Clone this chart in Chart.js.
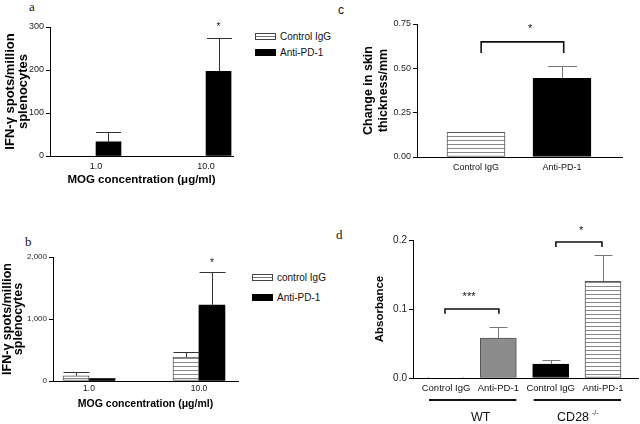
<!DOCTYPE html>
<html>
<head>
<meta charset="utf-8">
<script src="https://cdn.jsdelivr.net/npm/chart.js@4.4.1/dist/chart.umd.min.js"></script>
<style>
  body { margin: 0; width: 640px; height: 424px; background: #fff; position: relative; overflow: hidden; font-family: 'Liberation Sans', Arial, sans-serif; }
  canvas, .tag, .legend { position: absolute; }
  .tag { font-family: 'Liberation Serif', serif; font-size: 13px; color: #111; line-height: 1; }
  .legend { font-size: 10px; color: #111; }
  .legend div { display: flex; align-items: center; }
  .sw { width: 19px; height: 5px; border: 1px solid #444; margin-right: 4px; }
  .sw.striped { background: linear-gradient(#fff 0 2px, #777 2px 3px, #fff 3px); }
  .sw.solid { background: #000; border-color: #000; }
</style>
</head>
<body>

<div class="tag" style="left:29px;top:0px">a</div>
<div class="tag" style="left:25px;top:235px">b</div>
<div class="tag" style="left:338px;top:4px;font-family:'Liberation Sans',sans-serif;font-size:12px">c</div>
<div class="tag" style="left:336px;top:228px">d</div>

<div class="legend" style="left:255px;top:28px">
  <div style="height:16px"><span class="sw striped"></span>Control IgG</div>
  <div style="height:16px"><span class="sw solid"></span>Anti-PD-1</div>
</div>
<div class="legend" style="left:252px;top:267px">
  <div style="height:20px"><span class="sw striped"></span>control IgG</div>
  <div style="height:20px"><span class="sw solid"></span>Anti-PD-1</div>
</div>

<canvas id="chartA" width="240" height="192" style="left:0;top:0"></canvas>
<canvas id="chartB" width="245" height="190" style="left:0;top:230px"></canvas>
<canvas id="chartC" width="280" height="182" style="left:355px;top:0"></canvas>
<canvas id="chartD" width="285" height="202" style="left:355px;top:222px"></canvas>

<script>
// values
const mogLabels = ['1.0', '10.0']

const aControl = [0, 0]
const aControlErr = [null, null]
const aAnti = [33, 197]
const aAntiErr = [56, 275]

const bControl = [85, 387]
const bControlErr = [140, 473]
const bAnti = [32, 1226]
const bAntiErr = [53, 1753]

const cLabels = ['Control IgG', 'Anti-PD-1']
const cValues = [0.139, 0.444]
const cErr = [null, 0.513]

const dLabels = ['Control IgG', 'Anti-PD-1', 'Control IgG', 'Anti-PD-1']
const dValues = [0.001, 0.058, 0.020, 0.140]
const dErr = [null, 0.0735, 0.026, 0.178]
const dGroups = ['WT', 'CD28']

const sans = "'Liberation Sans', Arial, Helvetica, sans-serif"
Chart.defaults.font.family = sans
Chart.defaults.color = '#111'
Chart.defaults.animation = false

const toPoints = values => values.map((v, i) => ({ x: i + 1, y: v }))

const stripes = (ctx, gap) => {
  const tile = document.createElement('canvas')
  tile.width = 8
  tile.height = gap
  const t = tile.getContext('2d')
  t.fillStyle = '#fff'
  t.fillRect(0, 0, 8, gap)
  t.fillStyle = '#888'
  t.fillRect(0, 0, 8, 1)
  return ctx.createPattern(tile, 'repeat')
}

// upper-only error bars, drawn from each bar's own geometry
const errorBars = (color, capRatio) => ({
  id: 'errorBars',
  afterDatasetsDraw(chart) {
    const { ctx, scales: { y } } = chart
    chart.data.datasets.forEach((ds, di) => {
      if (!ds.errors) return
      chart.getDatasetMeta(di).data.forEach((bar, i) => {
        const top = ds.errors[i]
        if (top == null) return
        const { x, y: barTop, width } = bar.getProps(['x', 'y', 'width'], true)
        const px = Math.round(x) + 0.5
        const yE = Math.round(y.getPixelForValue(top)) + 0.5
        const half = width * capRatio / 2
        ctx.save()
        ctx.strokeStyle = color
        ctx.lineWidth = 1
        ctx.beginPath()
        ctx.moveTo(px, barTop)
        ctx.lineTo(px, yE)
        ctx.moveTo(px - half, yE)
        ctx.lineTo(px + half, yE)
        ctx.stroke()
        ctx.restore()
      })
    })
  }
})

// significance stars above a given bar
const stars = items => ({
  id: 'stars',
  afterDraw(chart) {
    const { ctx, scales: { y } } = chart
    items.forEach(({ ds, index, value, text }) => {
      const bar = chart.getDatasetMeta(ds).data[index]
      ctx.save()
      ctx.fillStyle = '#111'
      ctx.font = `10px ${sans}`
      ctx.textAlign = 'center'
      ctx.textBaseline = 'middle'
      ctx.fillText(text, bar.x, y.getPixelForValue(value))
      ctx.restore()
    })
  }
})

// comparison brackets
const brackets = items => ({
  id: 'brackets',
  afterDraw(chart) {
    const { ctx, scales: { x, y } } = chart
    items.forEach(b => {
      const x1 = x.getPixelForValue(b.from)
      const x2 = x.getPixelForValue(b.to)
      const yTop = y.getPixelForValue(b.top)
      const yLeg = y.getPixelForValue(b.leg)
      ctx.save()
      ctx.strokeStyle = '#111'
      ctx.lineWidth = 1.6
      ctx.beginPath()
      ctx.moveTo(x1, yLeg)
      ctx.lineTo(x1, yTop)
      ctx.lineTo(x2, yTop)
      ctx.lineTo(x2, yLeg)
      ctx.stroke()
      ctx.fillStyle = '#111'
      ctx.font = `11px ${sans}`
      ctx.textAlign = 'center'
      ctx.textBaseline = 'middle'
      ctx.fillText(b.text, x.getPixelForValue(b.textX), y.getPixelForValue(b.textY))
      ctx.restore()
    })
  }
})

// WT / CD28-/- group underlines below the tick labels
const groupLabels = groups => ({
  id: 'groupLabels',
  afterDraw(chart) {
    const { ctx, chartArea, scales: { x } } = chart
    const lineY = chartArea.bottom + 22
    const textY = chartArea.bottom + 40
    groups.forEach((name, g) => {
      const left = x.getPixelForValue(g * 2 + 1) - 17
      const right = x.getPixelForValue(g * 2 + 2) + 18
      ctx.save()
      ctx.strokeStyle = '#111'
      ctx.lineWidth = 2
      ctx.beginPath()
      ctx.moveTo(left, lineY)
      ctx.lineTo(right, lineY)
      ctx.stroke()
      ctx.fillStyle = '#111'
      ctx.textBaseline = 'middle'
      ctx.font = `12.5px ${sans}`
      const mid = (left + right) / 2
      if (name === 'CD28') {
        const w = ctx.measureText(name).width
        ctx.font = `7px ${sans}`
        const sup = ' -/-'
        const sw = ctx.measureText(sup).width
        const start = mid - (w + sw) / 2
        ctx.font = `12.5px ${sans}`
        ctx.textAlign = 'left'
        ctx.fillText(name, start, textY)
        ctx.font = `7px ${sans}`
        ctx.fillText(sup, start + w + 1, textY - 5)
      } else {
        ctx.textAlign = 'center'
        ctx.fillText(name, mid + 8, textY)
      }
      ctx.restore()
    })
  }
})

const yAxis = ({ max, step, width, fmt, tickSize, title, titleFont, titlePad }) => ({
  min: 0,
  max,
  afterFit: scale => { scale.width = width },
  ticks: { stepSize: step, padding: 2, font: { size: tickSize }, color: '#222', callback: fmt },
  grid: { drawOnChartArea: false, tickLength: 4, color: '#000' },
  border: { color: '#000' },
  title: { display: true, text: title, color: '#000', font: titleFont, padding: { top: titlePad, bottom: 0 } }
})

const xAxis = ({ min, max, labels, height, tickSize, tickPad, title }) => ({
  type: 'linear',
  offset: false,
  min,
  max,
  afterFit: scale => { scale.height = height },
  afterBuildTicks: scale => { scale.ticks = labels.map((l, i) => ({ value: i + 1 })) },
  ticks: { autoSkip: false, maxRotation: 0, padding: tickPad, font: { size: tickSize }, color: '#111', callback: v => labels[v - 1] },
  grid: { display: false, drawTicks: false, offset: false },
  border: { color: '#000' },
  title: title || { display: false }
})

const base = {
  responsive: false,
  plugins: { legend: { display: false }, tooltip: { enabled: false } }
}

const printPanelA = () => {
  const ctx = document.getElementById('chartA').getContext('2d')

  const data = {
    datasets: [
      { label: 'Control IgG', data: toPoints(aControl), errors: aControlErr, backgroundColor: stripes(ctx, 4), borderColor: '#555', borderWidth: 1, borderSkipped: false, barThickness: 25 },
      { label: 'Anti-PD-1', data: toPoints(aAnti), errors: aAntiErr, backgroundColor: '#000', borderWidth: 0, barThickness: 25 }
    ]
  }

  const options = {
    ...base,
    layout: { padding: { top: 27, right: 7, bottom: 0, left: 0 } },
    scales: {
      x: xAxis({
        min: 0.582, max: 2.245, labels: mogLabels, height: 36, tickSize: 9, tickPad: 5,
        title: { display: true, text: 'MOG concentration (μg/ml)', color: '#000', font: { size: 11.5, weight: 'bold' }, padding: { top: 0, bottom: 5 } }
      }),
      y: yAxis({
        max: 300, step: 100, width: 50, tickSize: 9, fmt: v => v,
        title: ['IFN-γ spots/million', 'splenocytes'], titleFont: { size: 13, weight: 'bold', lineHeight: 1 }, titlePad: 3.5
      })
    }
  }

  new Chart(ctx, {
    type: 'bar',
    data,
    options,
    plugins: [errorBars('#333', 1), stars([{ ds: 1, index: 1, value: 300, text: '*' }])]
  })
}

const printPanelB = () => {
  const ctx = document.getElementById('chartB').getContext('2d')

  const data = {
    datasets: [
      { label: 'control IgG', data: toPoints(bControl), errors: bControlErr, backgroundColor: stripes(ctx, 4), borderColor: '#555', borderWidth: 1, borderSkipped: false, barThickness: 26 },
      { label: 'Anti-PD-1', data: toPoints(bAnti), errors: bAntiErr, backgroundColor: '#000', borderWidth: 0, barThickness: 26 }
    ]
  }

  const options = {
    ...base,
    layout: { padding: { top: 27, right: 7, bottom: 0, left: 0 } },
    scales: {
      x: xAxis({
        min: 0.673, max: 2.355, labels: mogLabels, height: 39, tickSize: 8.5, tickPad: 3,
        title: { display: true, text: 'MOG concentration (μg/ml)', color: '#000', font: { size: 10.5, weight: 'bold' }, padding: { top: 0, bottom: 10 } }
      }),
      y: yAxis({
        max: 2000, step: 1000, width: 53, tickSize: 8, fmt: v => v.toLocaleString('en-US'),
        title: ['IFN-γ spots/million', 'splenocytes'], titleFont: { size: 12.5, weight: 'bold', lineHeight: 0.9 }, titlePad: 1.5
      })
    }
  }

  new Chart(ctx, {
    type: 'bar',
    data,
    options,
    plugins: [errorBars('#333', 1), stars([{ ds: 1, index: 1, value: 1900, text: '*' }])]
  })
}

const printPanelC = () => {
  const ctx = document.getElementById('chartC').getContext('2d')

  const data = {
    datasets: [{
      data: toPoints(cValues),
      errors: cErr,
      backgroundColor: [stripes(ctx, 4), '#000'],
      borderColor: ['#555', '#000'],
      borderWidth: 1,
      borderSkipped: false,
      barThickness: 58
    }]
  }

  const options = {
    ...base,
    layout: { padding: { top: 24, right: 13, bottom: 0, left: 0 } },
    scales: {
      x: xAxis({ min: 0.314, max: 2.698, labels: cLabels, height: 25, tickSize: 9, tickPad: 5 }),
      y: yAxis({
        max: 0.75, step: 0.25, width: 62, tickSize: 9, fmt: v => v.toFixed(2),
        title: ['Change in skin', 'thickness/mm'], titleFont: { size: 12.5, weight: 'bold', lineHeight: 1.2 }, titlePad: 6.5
      })
    }
  }

  new Chart(ctx, {
    type: 'bar',
    data,
    options,
    plugins: [errorBars('#777', 0.5), brackets([{ from: 1.06, to: 2.02, top: 0.649, leg: 0.587, text: '*', textX: 1.63, textY: 0.722 }])]
  })
}

const printPanelD = () => {
  const ctx = document.getElementById('chartD').getContext('2d')
  const lines = stripes(ctx, 4)

  const data = {
    datasets: [{
      data: toPoints(dValues),
      errors: dErr,
      backgroundColor: [lines, '#8c8c8c', '#000', lines],
      borderColor: ['#555', '#555', '#000', '#555'],
      borderWidth: 1,
      borderSkipped: false,
      barThickness: 36
    }]
  }

  const options = {
    ...base,
    layout: { padding: { top: 18, right: 2, bottom: 0, left: 0 } },
    scales: {
      x: xAxis({ min: 0.369, max: 4.669, labels: dLabels, height: 46, tickSize: 9.5, tickPad: 5 }),
      y: yAxis({
        max: 0.2, step: 0.1, width: 58, tickSize: 10, fmt: v => v.toFixed(1),
        title: 'Absorbance', titleFont: { size: 11.5, weight: 'bold' }, titlePad: 18
      })
    }
  }

  new Chart(ctx, {
    type: 'bar',
    data,
    options,
    plugins: [
      errorBars('#777', 0.5),
      brackets([
        { from: 0.98, to: 2.01, top: 0.1, leg: 0.093, text: '***', textX: 1.44, textY: 0.117 },
        { from: 3.1, to: 3.98, top: 0.197, leg: 0.19, text: '*', textX: 3.58, textY: 0.213 }
      ]),
      groupLabels(dGroups)
    ]
  })
}

printPanelA()
printPanelB()
printPanelC()
printPanelD()
</script>
</body>
</html>
